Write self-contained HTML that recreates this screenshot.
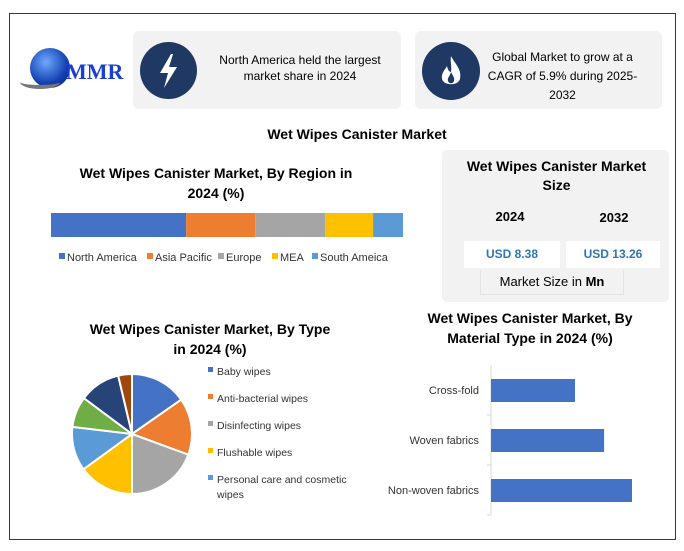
<!DOCTYPE html>
<html><head><meta charset="utf-8"><style>
body{margin:0;width:684px;height:551px;background:#fff;font-family:"Liberation Sans",sans-serif;position:relative;overflow:hidden}
.a{position:absolute}
.t{position:absolute;text-align:center;color:#000}
</style></head><body>
<div class="a" style="left:9px;top:13px;width:665px;height:525px;border:1px solid #2b3a55"></div>

<div class="a" style="left:20px;top:45px;width:105px;height:45px">
 <div class="a" style="left:10px;top:3px;width:40px;height:40px;border-radius:50%;background:radial-gradient(circle at 40% 35%,#6fa8ff,#1240b0 60%,#0a1f66)"></div>
 <div class="a" style="left:0px;top:30px;width:40px;height:10px;border-bottom:4px solid #777;border-radius:50%"></div>
 <div class="a" style="left:46px;top:14px;font-family:'Liberation Serif',serif;font-weight:bold;font-size:22px;color:#1a3fd0">MMR</div>
</div>

<div class="a" style="left:133px;top:31px;width:268px;height:78px;background:#f2f2f2;border-radius:6px"></div>
<div class="a" style="left:140px;top:42px;width:57px;height:57px;border-radius:50%;background:#1f3864">
 <svg width="57" height="57"><polygon points="31,12 20,31 28,31 24,46 37,25 29,25 33,12" fill="#fff"/></svg></div>
<div class="t" style="left:205px;top:52px;width:190px;font-size:12px;line-height:16px">North America held the largest market share in 2024</div>

<div class="a" style="left:415px;top:31px;width:247px;height:78px;background:#f2f2f2;border-radius:6px"></div>
<div class="a" style="left:422px;top:42px;width:58px;height:58px;border-radius:50%;background:#1f3864">
 <svg width="58" height="58"><path d="M29 14 C33 22 40 27 38 37 C36 44 22 44 20 37 C19 31 23 28 25 24 C26 29 28 30 29 30 C30 25 28 19 29 14Z" fill="#fff"/><path d="M29 30 C31 34 33 36 32 39 C31 42 27 42 26 39 C25 36 28 34 29 30Z" fill="#1f3864"/></svg></div>
<div class="t" style="left:485px;top:48px;width:155px;font-size:12px;line-height:19px">Global Market to grow at a CAGR of 5.9% during 2025-2032</div>

<div class="t" style="left:200px;top:126px;width:314px;font-size:14px;font-weight:bold">Wet Wipes Canister Market</div>

<div class="t" style="left:56px;top:163px;width:320px;font-size:14px;font-weight:bold;line-height:20px">Wet Wipes Canister Market, By Region in<br>2024 (%)</div>
<svg class="a" id="region" style="left:0;top:200px" width="430" height="75"></svg>

<div class="a" style="left:442px;top:150px;width:227px;height:152px;background:#f2f2f2;border-radius:5px"></div>
<div class="t" style="left:445px;top:157px;width:223px;font-size:14px;font-weight:bold;line-height:19px">Wet Wipes Canister Market<br>Size</div>
<div class="t" style="left:480px;top:209px;width:60px;font-size:13px;font-weight:bold">2024</div>
<div class="t" style="left:584px;top:210px;width:60px;font-size:13px;font-weight:bold">2032</div>
<div class="t" style="left:464px;top:241px;width:96px;height:27px;line-height:27px;background:#fff;font-size:12px;font-weight:bold;color:#2e75b6">USD 8.38</div>
<div class="t" style="left:566px;top:241px;width:94px;height:27px;line-height:27px;background:#fff;font-size:12px;font-weight:bold;color:#2e75b6">USD 13.26</div>
<div class="t" style="left:480px;top:270px;width:142px;height:24px;line-height:24px;border:1px solid #e4e4e4;border-top:none;font-size:13px">Market Size in <b>Mn</b></div>

<div class="t" style="left:50px;top:319px;width:320px;font-size:14px;font-weight:bold;line-height:20px">Wet Wipes Canister Market, By Type<br>in 2024 (%)</div>
<svg class="a" id="pie" style="left:0;top:360px" width="380" height="150"></svg>

<div class="t" style="left:400px;top:308px;width:260px;font-size:14px;font-weight:bold;line-height:20px">Wet Wipes Canister Market, By Material Type in 2024 (%)</div>
<svg class="a" id="bars" style="left:370px;top:360px" width="300" height="160"></svg>

<script>
const regionCats=["North America","Asia Pacific","Europe","MEA","South Ameica"];
const regionVals=[38.4,19.6,19.9,13.6,8.5];
const typeCats=["Baby wipes","Anti-bacterial wipes","Disinfecting wipes","Flushable wipes","Personal care and cosmetic wipes","Other 1","Other 2","Other 3"];
const typeVals=[15.3,15.3,19.4,15,11.9,8.3,11.1,3.7];
const matCats=["Cross-fold","Woven fabrics","Non-woven fabrics"];
const matVals=[28,37.7,47];
const colors=["#4472C4","#ED7D31","#A5A5A5","#FFC000","#5B9BD5","#70AD47","#264478","#9E480E"];
const NS="http://www.w3.org/2000/svg";
function mk(p,tag,at){const e=document.createElementNS(NS,tag);for(const k in at)e.setAttribute(k,at[k]);p.appendChild(e);return e;}

const rg=document.getElementById('region');
const rTot=regionVals.reduce((a,b)=>a+b,0);
const rx=v=>51+v/rTot*352;
let acc=0;
regionVals.forEach((v,i)=>{
 const r=mk(rg,'rect',{x:rx(acc),y:13,width:rx(acc+v)-rx(acc),height:24,fill:colors[i]});
 
 
 acc+=v;
});
const lx=[59,147,218,272,312];
regionCats.forEach((c,i)=>{
 const s=mk(rg,'rect',{x:lx[i],y:53,width:6,height:6,fill:colors[i]});
 
 
 const t=mk(rg,'text',{x:lx[i]+8,y:61,'font-size':11,fill:'#333','font-family':'Liberation Sans, sans-serif'});
 t.textContent=c;
 
 
});

const pg=document.getElementById('pie');
const cx=132,cy=74,R=60;
const pTot=typeVals.reduce((a,b)=>a+b,0);
let a0=0;
typeVals.forEach((v,i)=>{
 const a1=a0+v/pTot*2*Math.PI;
 const p=(a)=>[cx+R*Math.sin(a),cy-R*Math.cos(a)];
 const [x0,y0]=p(a0),[x1,y1]=p(a1);
 const large=(a1-a0)>Math.PI?1:0;
 const s=mk(pg,'path',{d:`M${cx},${cy}L${x0},${y0}A${R},${R} 0 ${large} 1 ${x1},${y1}Z`,fill:colors[i],stroke:'#fff','stroke-width':2});
 
 
 a0=a1;
});
const legY=[11,38,65,92,119];
for(let i=0;i<5;i++){
 const s=mk(pg,'rect',{x:208,y:legY[i]-4,width:5,height:5,fill:colors[i]});
 
 
 const t=mk(pg,'text',{x:217,y:legY[i]+4,'font-size':10.5,fill:'#333','font-family':'Liberation Sans, sans-serif'});
 
 
 if(i===4){t.textContent='Personal care and cosmetic';const t2=mk(pg,'text',{x:217,y:legY[i]+19,'font-size':10.5,fill:'#333','font-family':'Liberation Sans, sans-serif'});t2.textContent='wipes';}
 else t.textContent=typeCats[i];
}

const bg=document.getElementById('bars');
const x0=121, bx=v=>x0+v*3;
const ax=mk(bg,'line',{x1:x0,y1:5,x2:x0,y2:155,stroke:'#d9d9d9'});


matCats.forEach((c,i)=>{
 const yc=30+i*50;
 const t1=mk(bg,'line',{x1:x0-4,y1:yc+25,x2:x0,y2:yc+25,stroke:'#d9d9d9'});
 
 
 const r=mk(bg,'rect',{x:x0,y:yc-11,width:bx(matVals[i])-x0,height:23,fill:'#4472C4'});
 
 
 const t=mk(bg,'text',{x:x0-12,y:yc+4,'text-anchor':'end','font-size':11,fill:'#333','font-family':'Liberation Sans, sans-serif'});
 t.textContent=c;
 
 
});
</script>
</body></html>
